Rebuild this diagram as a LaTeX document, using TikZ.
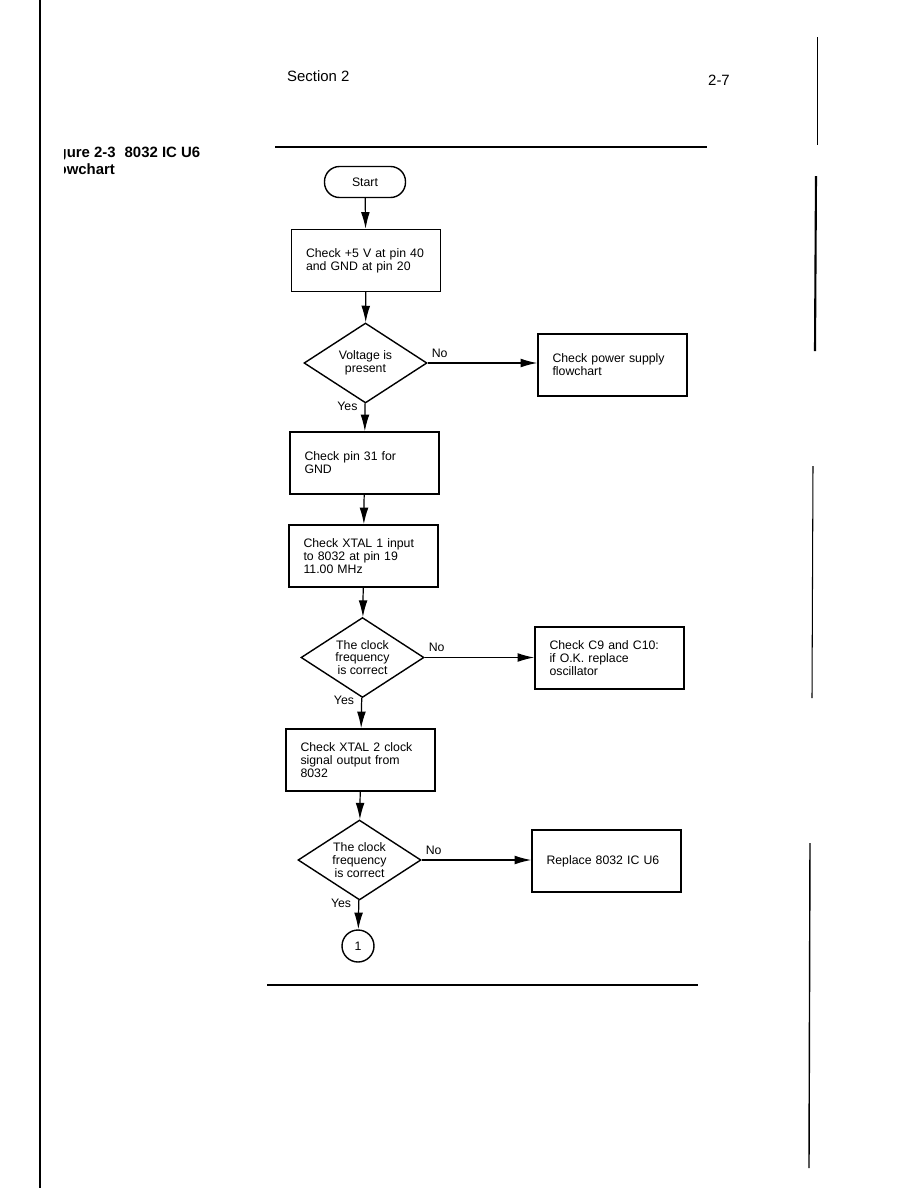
\documentclass[tikz,border=0pt]{standalone}
\usepackage{fontspec}
\setmainfont{Liberation Sans}
\usetikzlibrary{shapes.geometric,arrows.meta,positioning}

\begin{document}
\begin{tikzpicture}[x=0.02cm, y=-0.02cm,
        every node/.style={font=\fontsize{7pt}{7.3pt}\selectfont},
        terminal/.style={rectangle, draw, line width=0.8pt, rounded corners=0.3cm, minimum width=1.62cm, minimum height=0.62cm},
        process/.style={rectangle, draw, line width=0.8pt, minimum height=1.24cm, text width=2.4cm, inner xsep=0.29cm, align=left},
        decision/.style={diamond, draw, line width=0.8pt, minimum width=2.46cm, minimum height=1.6cm, inner sep=0pt, aspect=1.5, align=center},
        connector/.style={circle, draw, line width=0.8pt, minimum size=0.64cm, inner sep=0pt},
        answer/.style={inner sep=1pt},
        heading/.style={font=\fontsize{8.5pt}{10pt}\selectfont},
        paths/.style={line width=0.7pt, -{Latex[length=9.5pt, width=5pt]}},
        rule/.style={line width=1.5pt}
    ]
    \useasboundingbox (0,0) rectangle (918,1188);

        % Page edges
        \draw[line width=1pt] (40,0) -- (40,1188);
        \draw[line width=0.4pt] (817,37) -- (817,145);
        \draw[line width=1.2pt] (816,176) -- (815,351);
        \draw[line width=0.6pt] (813,466) -- (812,698);
        \draw[line width=0.8pt] (810,843) -- (809,1168);

        % Heading
        \node[heading, anchor=base west] (section) at (281,81) {Section 2};
        \node[heading, anchor=base west] (page) at (702,85) {2-7};
        \begin{scope}
            \clip (64,140) rectangle (260,180);
            \node[heading, font=\fontsize{8.5pt}{10pt}\selectfont\bfseries, anchor=north west, align=left, inner sep=0pt] (caption) at (44,146) {Figure 2-3\hspace{0.6em}8032 IC U6\\Flowchart};
        \end{scope}
        \draw[rule] (275,147) -- (707,147);
        \draw[rule] (267,985) -- (698,985);

        % Nodes
        \node[terminal] (start) at (365,182) {Start};
        \node[process] (supply) at (366,260.5) {Check +5 V at pin 40\\and GND at pin 20};
        \node[decision] (voltage) at (365.5,363) {Voltage is\\present};
        \node[process] (power) at (612.5,365) {Check power supply\\flowchart};
        \node[process] (pin31) at (364.5,463) {Check pin 31 for\\GND};
        \node[process] (xtal1) at (363.5,556) {Check XTAL 1 input\\to 8032 at pin 19\\11.00 MHz};
        \node[decision] (clock1) at (362.5,657.5) {The clock\\frequency\\is correct};
        \node[process] (caps) at (609.5,658) {Check C9 and C10:\\if O.K. replace\\oscillator};
        \node[process] (xtal2) at (360.5,760) {Check XTAL 2 clock\\signal output from\\8032};
        \node[decision] (clock2) at (359.5,860) {The clock\\frequency\\is correct};
        \node[process] (replace) at (606.5,861) {Replace 8032 IC U6};
        \node[connector] (next) at (358,946) {1};

        % Paths: main line
        \draw[paths] (start) -- (supply);
        \draw[paths] (supply) -- (voltage);
        \draw[paths] (voltage) -- (pin31) node[answer, pos=0.1, left, xshift=-3pt] (yes1) {Yes};
        \draw[paths] (pin31) -- (xtal1);
        \draw[paths] (xtal1) -- (clock1);
        \draw[paths] (clock1) -- (xtal2) node[answer, pos=0.1, left, xshift=-3pt] (yes2) {Yes};
        \draw[paths] (xtal2) -- (clock2);
        \draw[paths] (clock2) -- (next) node[answer, pos=0.1, left, xshift=-3pt] (yes3) {Yes};

        % Paths: No branches
        \draw[paths] (voltage.east) -- (voltage.east -| power.west) node[answer, pos=0, above right, xshift=1pt, yshift=2pt] (no1) {No};
        \draw[paths] (clock1.east) -- (clock1.east -| caps.west) node[answer, pos=0, above right, xshift=1pt, yshift=2pt] (no2) {No};
        \draw[paths] (clock2.east) -- (clock2.east -| replace.west) node[answer, pos=0, above right, xshift=1pt, yshift=2pt] (no3) {No};
\end{tikzpicture}
\end{document}
